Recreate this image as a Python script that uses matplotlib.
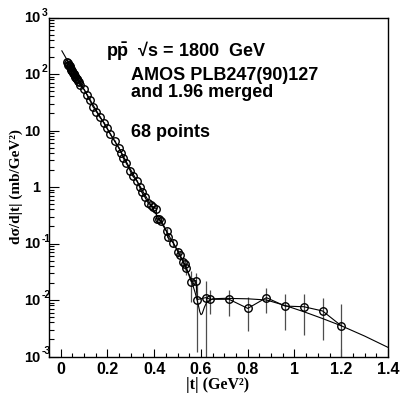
"""Elastic pp-bar dsigma/dt at sqrt(s)=1800 GeV, ROOT-style plot."""
import numpy as np
import matplotlib
matplotlib.use('Agg')
import matplotlib.pyplot as plt
from matplotlib.ticker import FixedLocator, MultipleLocator, NullFormatter
from matplotlib.transforms import offset_copy

plt.rcParams['mathtext.fontset'] = 'custom'
plt.rcParams['mathtext.rm'] = 'Liberation Sans:bold'
plt.rcParams['mathtext.bf'] = 'Liberation Sans:bold'
plt.rcParams['mathtext.it'] = 'Liberation Sans:bold'

# measured points (|t| in GeV^2, dsigma/d|t| in mb/GeV^2)
t_data = [0.028, 0.030, 0.033, 0.035, 0.038, 0.040, 0.043, 0.045, 0.048, 0.050,
          0.053, 0.055, 0.058, 0.060, 0.063, 0.065, 0.068, 0.070, 0.073, 0.077,
          0.082,
          0.100, 0.113, 0.124, 0.138, 0.153, 0.167, 0.186, 0.198, 0.212, 0.231,
          0.248, 0.260, 0.268, 0.281, 0.298, 0.308, 0.326, 0.338, 0.346, 0.360,
          0.374, 0.385, 0.395, 0.409, 0.410, 0.420, 0.431, 0.453, 0.458, 0.481,
          0.502, 0.510, 0.524, 0.531, 0.538, 0.558, 0.579, 0.584,
          0.62, 0.64, 0.72, 0.80, 0.88, 0.96, 1.04, 1.12, 1.20]
y_data = [160, 155, 147, 142, 136, 131, 125, 120, 115, 111,
          106, 102, 98, 94, 90, 86, 83, 80, 76, 71,
          65,
          53.6, 42.5, 34.7, 26.4, 21.5, 17.3, 13.6, 11.1, 8.67, 6.52,
          5.00, 4.00, 3.26, 2.63, 1.92, 1.57, 1.28, 0.988, 0.816, 0.665,
          0.521, 0.480, 0.442, 0.416, 0.272, 0.270, 0.250, 0.166, 0.128, 0.104,
          0.0708, 0.0626, 0.0477, 0.0434, 0.0364, 0.0212, 0.0221, 0.0102,
          0.0110, 0.0103, 0.0103, 0.0071, 0.0110, 0.0078, 0.0076, 0.0064, 0.0035]
y_err = [3.5, 3.4, 3.2, 3.1, 3.0, 2.9, 2.8, 2.7, 2.6, 2.5,
         2.4, 2.3, 2.2, 2.1, 2.0, 1.9, 1.9, 1.8, 1.7, 1.6,
         1.5,
         1.5, 1.2, 1.0, 0.8, 0.65, 0.55, 0.45, 0.38, 0.30, 0.24,
         0.19, 0.16, 0.14, 0.11, 0.085, 0.072, 0.06, 0.048, 0.042, 0.036,
         0.03, 0.029, 0.028, 0.03, 0.022, 0.024, 0.024, 0.02, 0.017, 0.016,
         0.013, 0.012, 0.011, 0.010, 0.009, 0.012, 0.008, 0.009,
         0.0107, 0.0046, 0.0050, 0.0043, 0.0051, 0.0049, 0.0052, 0.00445, 0.0050]

# model curve
fit_t = [0.005, 0.05, 0.1, 0.15, 0.2, 0.25, 0.3, 0.35, 0.4, 0.45, 0.5, 0.53,
         0.555, 0.575, 0.585, 0.595, 0.6, 0.605, 0.615, 0.625, 0.65, 0.7, 0.8,
         0.88, 0.96, 1.04, 1.12, 1.2, 1.3, 1.4]
fit_y = [257, 122, 53, 23.5, 10.6, 4.8, 2.0, 0.86, 0.38, 0.17, 0.075, 0.042,
         0.025, 0.0135, 0.0095, 0.0062, 0.0055, 0.0057, 0.0075, 0.0092, 0.0105,
         0.0107, 0.0105, 0.0100, 0.0080, 0.0062, 0.0047, 0.0035, 0.0023, 0.00145]

x_ticks = [0, 0.2, 0.4, 0.6, 0.8, 1.0, 1.2, 1.4]
x_ticklabels = ['0', '0.2', '0.4', '0.6', '0.8', '1', '1.2', '1.4']
y_ticks = [1e-3, 1e-2, 1e-1, 1, 10, 1e2, 1e3]
y_tick_base = ['10', '10', '10', '1', '10', '10', '10']
y_tick_exp = ['-3', '-2', '-1', '', '', '2', '3']

fig = plt.figure(figsize=(4.01, 3.94), dpi=100)
ax = fig.add_axes([49 / 401, 1 - 356.5 / 394, 339 / 401, 339 / 394])

ax.errorbar(t_data, y_data, yerr=y_err, fmt='none', ecolor='0.3', elinewidth=0.9,
            capsize=0, zorder=2)
ax.plot(t_data, y_data, '-', color='black', lw=0.8, zorder=3)
ax.plot(t_data, y_data, 'o', mfc='none', mec='black', mew=1.0, ms=5.4, zorder=4)
ax.plot(fit_t, fit_y, '-', color='black', lw=0.8, zorder=3)

ax.set_yscale('log')
ax.set_xlim(-0.05, 1.4)
ax.set_ylim(1e-3, 1e3)

ax.xaxis.set_major_locator(FixedLocator(x_ticks))
ax.set_xticklabels(x_ticklabels, fontfamily='Liberation Sans', fontweight='bold',
                   fontsize=11.5)
ax.xaxis.set_minor_locator(MultipleLocator(0.05))
ax.tick_params(axis='x', which='major', direction='in', length=6, width=0.8, pad=4,
               top=False)
ax.tick_params(axis='x', which='minor', direction='in', length=3, width=0.8, top=False)

ax.yaxis.set_major_locator(FixedLocator(y_ticks))
ax.yaxis.set_minor_formatter(NullFormatter())
ax.set_yticklabels([])
ax.tick_params(axis='y', which='major', direction='in', length=7, width=0.8, right=False)
ax.tick_params(axis='y', which='minor', direction='in', length=3.5, width=0.8, right=False)

base_tr = offset_copy(ax.get_yaxis_transform(), fig=fig, x=-9, y=-1, units='dots')
exp_tr = offset_copy(ax.get_yaxis_transform(), fig=fig, x=-7, y=5, units='dots')
for val, base, ex in zip(y_ticks, y_tick_base, y_tick_exp):
    ax.text(0, val, base, transform=base_tr, ha='right', va='center',
            fontfamily='Liberation Sans', fontweight='bold', fontsize=10.5)
    if ex:
        ax.text(0, val, ex, transform=exp_tr, ha='left', va='center',
                fontfamily='Liberation Sans', fontweight='bold', fontsize=7.5)

for sp in ax.spines.values():
    sp.set_linewidth(1.0)

txt = dict(transform=ax.transAxes, fontfamily='Liberation Sans', fontweight='bold',
           fontsize=13, va='baseline', ha='left')
ax.text(0.168, 0.886, r'$\mathbf{p\bar{p}}$  √s = 1800  GeV', **txt)
ax.text(0.242, 0.8156, 'AMOS PLB247(90)127', **txt)
ax.text(0.242, 0.765, 'and 1.96 merged', **txt)
ax.text(0.242, 0.6484, '68 points', **txt)

fig.text(218 / 401, 1 - 385 / 394, '|t| (GeV²)', ha='center', va='center',
         fontfamily='Liberation Serif', fontweight='bold', fontsize=11.5)
fig.text(16 / 401, 1 - 187 / 394, 'dσ/d|t| (mb/GeV²)', ha='center', va='center',
         rotation=90, fontfamily='Liberation Serif', fontweight='bold', fontsize=11)

fig.savefig('out.png', dpi=100)
